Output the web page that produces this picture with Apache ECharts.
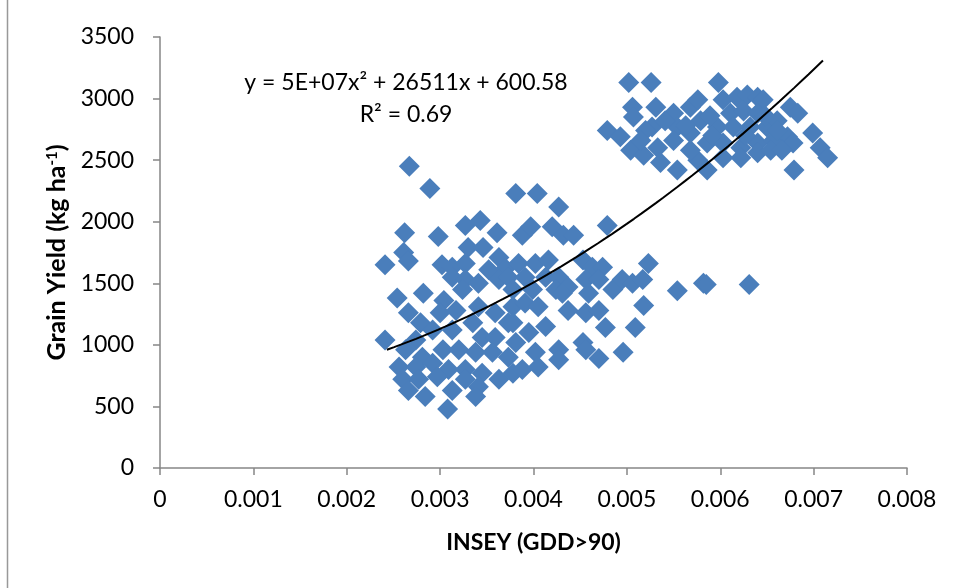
<!DOCTYPE html>
<html>
<head>
<meta charset="utf-8">
<script src="https://cdn.jsdelivr.net/npm/echarts@6/dist/echarts.min.js"></script>
<style>
	html, body { margin: 0; padding: 0; background: #fff; }
	#chart { width: 958px; height: 588px; }
</style>
</head>
<body>
<div id="chart"></div>
<script>
// INSEY (GDD>90) values
var insey = [
	0.00241, 0.00241, 0.00254, 0.00262, 0.00261, 0.00266, 0.00267, 0.00289, 0.00298, 0.00327,
	0.00343, 0.00361, 0.00330, 0.00346, 0.00363, 0.00302, 0.00313, 0.00327, 0.00352, 0.00370,
	0.00313, 0.00327, 0.00341, 0.00363, 0.00282, 0.00304, 0.00324, 0.00266, 0.00279, 0.00300,
	0.00317, 0.00341, 0.00359, 0.00373, 0.00274, 0.00292, 0.00313, 0.00335, 0.00345, 0.00359,
	0.00263, 0.00281, 0.00303, 0.00320, 0.00338, 0.00356, 0.00373, 0.00256, 0.00274, 0.00292,
	0.00309, 0.00327, 0.00345, 0.00260, 0.00277, 0.00297, 0.00327, 0.00341, 0.00363, 0.00378,
	0.00266, 0.00284, 0.00313, 0.00338, 0.00308,
	0.00381, 0.00404, 0.00427, 0.00388, 0.00397, 0.00420, 0.00432, 0.00443, 0.00479, 0.00523,
	0.00384, 0.00402, 0.00416, 0.00373, 0.00391, 0.00413, 0.00427, 0.00453, 0.00463, 0.00474,
	0.00456, 0.00470, 0.00378, 0.00399, 0.00424, 0.00437, 0.00459, 0.00485, 0.00495, 0.00506,
	0.00517, 0.00378, 0.00391, 0.00405, 0.00431, 0.00437, 0.00456, 0.00470, 0.00518, 0.00378,
	0.00395, 0.00413, 0.00477, 0.00509, 0.00381, 0.00402, 0.00427, 0.00453, 0.00456, 0.00470,
	0.00496, 0.00388, 0.00405, 0.00427,
	0.00502, 0.00526, 0.00598, 0.00479, 0.00493, 0.00506, 0.00507, 0.00531, 0.00527, 0.00550,
	0.00554, 0.00568, 0.00576, 0.00579, 0.00568, 0.00550, 0.00533, 0.00504, 0.00518, 0.00536,
	0.00554, 0.00603, 0.00618, 0.00629, 0.00640, 0.00646, 0.00611, 0.00625, 0.00640, 0.00597,
	0.00614, 0.00632, 0.00650, 0.00661, 0.00675, 0.00683, 0.00586, 0.00603, 0.00622, 0.00640,
	0.00657, 0.00672, 0.00678, 0.00576, 0.00586, 0.00603, 0.00622, 0.00640, 0.00654, 0.00699,
	0.00707, 0.00715, 0.00679, 0.00661, 0.00520, 0.00541, 0.00563, 0.00589, 0.00592, 0.00568,
	0.00627, 0.00648, 0.00666, 0.00515,
	0.00554, 0.00582, 0.00585, 0.00631
];
// Grain yield (kg ha-1) values, same order
var grainYield = [
	1650, 1040, 1380, 1910, 1750, 1680, 2450, 2270, 1880, 1970,
	2010, 1910, 1790, 1790, 1710, 1650, 1630, 1660, 1610, 1620,
	1550, 1530, 1500, 1530, 1420, 1360, 1450, 1260, 1180, 1260,
	1280, 1310, 1260, 1180, 1040, 1120, 1120, 1180, 1060, 1060,
	960, 900, 960, 960, 940, 940, 900, 820, 820, 850,
	800, 800, 770, 720, 720, 740, 720, 660, 720, 770,
	630, 580, 630, 580, 480,
	2230, 2230, 2120, 1890, 1960, 1960, 1890, 1890, 1970, 1660,
	1660, 1660, 1690, 1550, 1550, 1550, 1550, 1690, 1630, 1630,
	1530, 1530, 1450, 1450, 1450, 1470, 1420, 1450, 1530, 1500,
	1530, 1310, 1340, 1310, 1420, 1280, 1260, 1280, 1320, 1180,
	1100, 1150, 1140, 1140, 1020, 940, 960, 1020, 960, 890,
	940, 800, 820, 880,
	3130, 3130, 3130, 2740, 2690, 2930, 2850, 2930, 2770, 2880,
	2770, 2930, 2990, 2820, 2720, 2660, 2600, 2580, 2540, 2480,
	2420, 2990, 3010, 3030, 3010, 2990, 2880, 2900, 2880, 2770,
	2770, 2770, 2770, 2820, 2930, 2880, 2640, 2640, 2600, 2640,
	2660, 2690, 2640, 2500, 2420, 2520, 2520, 2560, 2580, 2720,
	2600, 2520, 2420, 2740, 2740, 2820, 2780, 2860, 2700, 2580,
	2700, 2860, 2580, 2660,
	1440, 1500, 1490, 1490
];
// trendline printed on the chart: y = a*x^2 + b*x + c
var trendCoef = [5e7, 26511, 600.58];
var trendRange = [0.00243, 0.00710];
var xTicks = [0, 0.001, 0.002, 0.003, 0.004, 0.005, 0.006, 0.007, 0.008];
var yTicks = [0, 500, 1000, 1500, 2000, 2500, 3000, 3500];
var eqText = ['y = 5E+07x² + 26511x + 600.58', 'R² = 0.69'];

var points = [];
for (var i = 0; i < insey.length; i++) {
	points.push([insey[i], grainYield[i]]);
}
// trend curve sampled along the printed equation
var trend = [];
var steps = 60;
for (var j = 0; j <= steps; j++) {
	var x = trendRange[0] + (trendRange[1] - trendRange[0]) * j / steps;
	trend.push([x, trendCoef[0] * x * x + trendCoef[1] * x + trendCoef[2]]);
}

var font = 'Lato';
var axisGray = '#868686';
var chart = echarts.init(document.getElementById('chart'), null, { renderer: 'canvas' });
chart.setOption({
	backgroundColor: '#FFFFFF',
	animation: false,
	grid: { left: 160, right: 51, top: 37, bottom: 120 },
	xAxis: {
		type: 'value',
		min: xTicks[0],
		max: xTicks[xTicks.length - 1],
		interval: xTicks[1] - xTicks[0],
		name: 'INSEY (GDD>90)',
		nameLocation: 'middle',
		nameGap: 63,
		nameTextStyle: { fontFamily: font, fontWeight: 'bold', fontSize: 23, color: '#000' },
		splitLine: { show: false },
		axisLine: { onZero: false, lineStyle: { color: axisGray, width: 1.5 } },
		axisTick: { length: 7, lineStyle: { color: axisGray, width: 1.5 } },
		axisLabel: {
			margin: 20,
			fontFamily: font, fontSize: 23, color: '#000',
			formatter: function(v) { return v === 0 ? '0' : v.toFixed(3); }
		}
	},
	yAxis: {
		type: 'value',
		min: yTicks[0],
		max: yTicks[yTicks.length - 1],
		interval: yTicks[1] - yTicks[0],
		name: '{t|Grain Yield (kg ha}{s|-1}{t|)}',
		nameLocation: 'middle',
		nameGap: 89,
		nameTextStyle: {
			rich: {
				t: { fontFamily: font, fontWeight: 'bold', fontSize: 25, color: '#000' },
				s: { fontFamily: font, fontWeight: 'bold', fontSize: 15, color: '#000', verticalAlign: 'top', padding: [0, 0, 10, 0] }
			}
		},
		splitLine: { show: false },
		axisLine: { show: true, lineStyle: { color: axisGray, width: 1.5 } },
		axisTick: { show: true, length: 7, lineStyle: { color: axisGray, width: 1.5 } },
		axisLabel: {
			margin: 26, fontFamily: font, fontSize: 23, color: '#000',
			formatter: function(v) { return String(v); }
		}
	},
	graphic: [
		{
			type: 'line',
			shape: { x1: 7.5, y1: 0, x2: 7.5, y2: 588 },
			style: { stroke: '#999999', lineWidth: 1.5 }
		},
		{
			type: 'text', x: 406, y: 83,
			style: { text: eqText[0], font: '23px Lato', fill: '#000', textAlign: 'center', textVerticalAlign: 'middle' }
		},
		{
			type: 'text', x: 406, y: 115,
			style: { text: eqText[1], font: '23px Lato', fill: '#000', textAlign: 'center', textVerticalAlign: 'middle' }
		}
	],
	series: [
		{
			name: 'Grain Yield',
			type: 'scatter',
			symbol: 'diamond',
			symbolSize: 21,
			itemStyle: { color: '#4A7EBB', opacity: 1 },
			data: points
		},
		{
			name: 'Trend',
			type: 'line',
			showSymbol: false,
			smooth: false,
			lineStyle: { color: '#000', width: 2 },
			data: trend,
			z: 3
		}
	]
});
</script>
</body>
</html>
